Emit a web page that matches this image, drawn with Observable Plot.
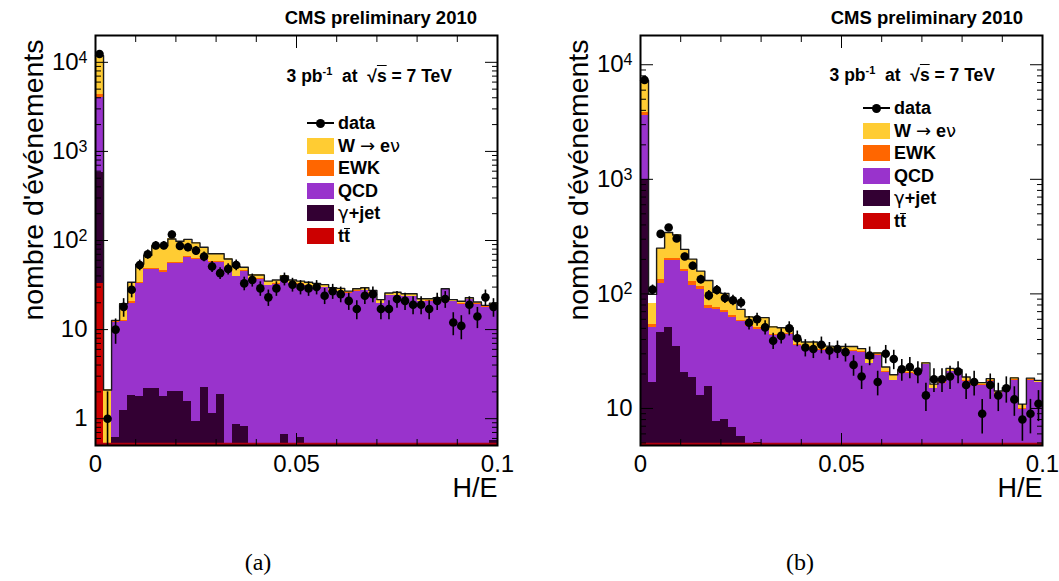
<!DOCTYPE html>
<html>
<head>
<meta charset="utf-8">
<script src="https://cdn.jsdelivr.net/npm/d3@7"></script>
<script src="https://cdn.jsdelivr.net/npm/@observablehq/plot@0.6"></script>
<style>
  body { margin: 0; background: #fff; font-family: "Liberation Sans", Arial, sans-serif; }
  #page { position: relative; width: 1059px; height: 581px; overflow: hidden; background: #fff; }
  .panel { position: absolute; top: 0; width: 530px; height: 520px; }
  .panel svg { position: absolute; left: 0; top: 0; }
  .cms { position: absolute; font-weight: bold; font-size: 18.5px; white-space: nowrap; line-height: 20px; }
  .lumi { position: absolute; font-weight: bold; font-size: 17.5px; white-space: nowrap; line-height: 20px; }
  .lumi sup { font-size: 11px; vertical-align: 7px; }
  .ov { text-decoration: overline; }
  .bar { display: inline-block; border-top: 1.6px solid black; line-height: 14px; }
  .leg-text { position: absolute; font-weight: bold; font-size: 18px; line-height: 20px; white-space: nowrap; }
  .sym { font-weight: normal; font-family: "DejaVu Sans", "Liberation Sans", sans-serif; }
  .leg-box { position: absolute; width: 27px; height: 16px; }
  .caption { position: absolute; top: 549px; font-family: "Liberation Serif", "DejaVu Serif", serif; font-size: 24px; transform: translateX(-50%); }
</style>
</head>
<body>
<div id="page"></div>
<script>
// ---- binning of H/E ----
const nBins = 50;
const xMax = 0.1;
const binWidth = xMax / nBins;

// ---- panel (a): events per bin for each process ----
const ttA = [33, 0, 0, 0, 0, 0, 0, 0, 0, 0, 0, 0, 0, 0, 0, 0, 0, 0, 0, 0, 0, 0, 0, 0, 0,
  0, 0, 0, 0, 0, 0, 0, 0, 0, 0, 0, 0, 0, 0, 0, 0, 0, 0, 0, 0, 0, 0, 0, 0, 0];
const gjetA = [552, 0, 0.62, 1.24, 1.83, 1.78, 2.2, 2.18, 1.78, 2.02, 2.02, 1.56, 0.93, 2.26, 1.14, 1.87, 0, 0.86, 0.82, 0,
  0, 0, 0, 0.67, 0, 0.62, 0, 0, 0, 0, 0, 0, 0, 0, 0, 0, 0, 0, 0, 0, 0, 0, 0, 0, 0, 0, 0, 0, 0, 0.57];
const qcdA = [3465, 0, 11.4, 11.1, 17.7, 30.8, 45.1, 45.1, 42.2, 53.7,
  52.6, 63.4, 59.9, 58.5, 56.2, 55.4, 48, 38.1, 44.2, 36,
  36.5, 31, 32, 36.5, 32.5, 31.5, 31, 29.5, 29.5, 27,
  26.5, 25.5, 27, 27.5, 25.5, 19.5, 24, 24, 23.5, 23.5,
  20.5, 20.8, 21.5, 28, 20.6, 19.2, 21.7, 19.3, 17.8, 18.2];
const ewkA = [250, 0.05, 0.2, 0.3, 1.0, 1.4, 1.8, 1.7, 2.0, 1.5,
  1.6, 1.6, 1.5, 1.4, 1.2, 1.2, 1, 0.8, 0.8, 0.6,
  0.5, 0.5, 0.5, 0.5, 0.5, 0.4, 0.4, 0.4, 0.4, 0.3,
  0.3, 0.3, 0.3, 0.3, 0.3, 0.3, 0.3, 0.3, 0.3, 0.3,
  0.2, 0.2, 0.2, 0.2, 0.2, 0.2, 0.2, 0.2, 0.2, 0.2];
const wenuA = [7600, 2.05, 0.5, 6.9, 13.5, 20, 18.9, 38, 41, 46.8,
  41.8, 36.4, 31.7, 21.8, 12.5, 12.5, 13, 11.2, 4.2, 4.4,
  4, 3.5, 3.5, 2.3, 3, 2.5, 2.6, 3.1, 2.1, 2.2,
  2.2, 1.2, 1.4, 1.7, 1.7, 1.9, 1.4, 2, 1.5, 1.5,
  1.5, 1.2, 1.1, 0.5, 0.9, 1.4, 0.9, 0.9, 0.7, 0.8];
const mcTotalA = [11900, 2.1, 12.7, 19.5, 34, 54, 68, 87, 87, 104,
  98, 103, 94, 84, 71, 71, 62, 51, 50, 41,
  41, 35, 36, 40, 36, 35, 34, 33, 32, 29.5,
  29, 27, 28.7, 29.5, 27.5, 21.7, 25.7, 26.3, 25.3, 25.3,
  22.2, 22.2, 22.8, 28.7, 21.7, 20.8, 22.8, 20.4, 18.7, 19.8];
const dataA = [12400, 1, 10, 18, 28, 53, 70, 88, 88, 117,
  87, 84, 77, 66, 51, 43, 48, 53, 33, 36,
  29, 23, 29, 37, 32, 30, 29, 30, 24, 27,
  25, 21, 17, 24, 25, 17, 17, 22, 21, 19,
  19, 17, 21, 22, 12, 11, 19, 14, 23, 18];

// ---- panel (b) ----
const ttB = [0, 0, 0, 0, 0, 0, 0, 0, 0, 0, 0, 0, 0, 0, 0, 0, 0, 0, 0, 0, 0, 0, 0, 0, 0,
  0, 0, 0, 0, 0, 0, 0, 0, 0, 0, 0, 0, 0, 0, 0, 0, 0, 0, 0, 0, 0, 0, 0, 0, 0];
const gjetB = [1000, 16.8, 46, 51, 35, 20.5, 18.5, 13, 15.5, 7.7, 8, 6.8, 5.7, 0, 5.0, 0, 0, 0, 0, 0,
  0, 0, 0, 0, 0, 0, 0, 0, 0, 0, 0, 0, 0, 0, 0, 0, 0, 0, 0, 0, 0, 0, 0, 0, 0, 0, 0, 0, 0, 0];
const qcdB = [2590, 33.9, 77, 143, 159, 135.5, 100.5, 97, 59.5, 65.3,
  61, 56, 51.8, 52, 44, 50, 43, 43, 44, 35.5,
  34, 34, 32, 32, 32, 32.5, 31.5, 31, 24.5, 29,
  20.8, 17.4, 20.5, 20.3, 19.8, 24, 14.8, 16.5, 21, 20.6,
  17.2, 16, 16, 17.3, 13.3, 14, 17.6, 9.8, 17.6, 16.8];
const ewkB = [240, 3.3, 11, 11, 11, 8, 8, 6, 3.5, 3,
  3, 2, 1.5, 1.5, 1.5, 1.5, 1.2, 1, 1, 0.8,
  0.7, 0.7, 0.7, 0.6, 0.6, 0.5, 0.5, 0.5, 0.4, 0.4,
  0.3, 0.3, 0.3, 0.3, 0.3, 0.2, 0.2, 0.2, 0.2, 0.2,
  0.2, 0.2, 0.2, 0.2, 0.2, 0.2, 0.2, 0.1, 0.2, 0.2];
const wenuB = [3470, 28, 117, 138, 122, 80.5, 74, 42, 52.5, 27.3,
  29, 22.2, 14.3, 9.5, 11.5, 10.5, 7.3, 6.7, 5.7, 3.7,
  3.3, 3.3, 3.3, 2.4, 2.1, 1.7, 2.7, 1.8, 2.5, 1.1,
  1.9, 2.0, 0.9, 1.0, 1.2, 0.8, 1.3, 0.9, 1.2, 1.0,
  1.4, 0.6, 0.6, 0.7, 0.7, 1.0, 0.7, 1.0, 0.6, 0.6];
const mcTotalB = [7300, 99, 251, 343, 327, 244.5, 201, 158, 131, 103.3,
  101, 87, 73.3, 63, 62, 62, 51.5, 50.7, 50.7, 40,
  38, 38, 36, 35, 34.7, 34.7, 34.7, 33.3, 27.4, 30.5,
  23, 19.7, 21.7, 21.6, 21.3, 25, 16.3, 17.6, 22.4, 21.8,
  18.8, 16.8, 16.8, 18.2, 14.2, 15.2, 18.5, 10.9, 18.4, 17.6];
const dataB = [7350, 109, 334, 380, 304, 212, 176, 134, 97, 108,
  92, 88, 84, 56, 60, 51, 39, 43, 50, 41,
  34, 33, 36, 32, 33, 31, 24, 19, 29, 17,
  30, 27, 22, 23, 21, 13, 18, 18, 19, 21,
  16, 17, 9, 16, 13, 15, 12, 8, 9, 11];

// ---- processes, stacked bottom to top ----
const processKeys = ["tt", "gjet", "qcd", "ewk", "wenu"];
const processColors = ["#cc0000", "#330033", "#9933cc", "#ff6600", "#ffcc33"];
const legendKeys = ["wenu", "ewk", "qcd", "gjet", "tt"];
const legendLabels = [
  'W <span class="sym">→</span> e<span class="sym">ν</span>',
  "EWK",
  "QCD",
  '<span class="sym">γ</span>+jet',
  't<span class="bar">t</span>'
];

// ---- axes ----
const xMajorTicks = [0, 0.05, 0.1];
const xTickLabels = ["0", "0.05", "0.1"];
const xMinorTicks = [0.01, 0.02, 0.03, 0.04, 0.06, 0.07, 0.08, 0.09];
const yMajorA = [1, 10, 100, 1000, 10000];
const yLabelsA = ["1", "10", "10^2", "10^3", "10^4"];
const yMinorA = [0.6, 0.7, 0.8, 0.9, 2, 3, 4, 5, 6, 7, 8, 9, 20, 30, 40, 50, 60, 70, 80, 90,
  200, 300, 400, 500, 600, 700, 800, 900, 2000, 3000, 4000, 5000, 6000, 7000, 8000, 9000];
const yMajorB = [10, 100, 1000, 10000];
const yLabelsB = ["10", "10^2", "10^3", "10^4"];
const yMinorB = [5, 6, 7, 8, 9, 20, 30, 40, 50, 60, 70, 80, 90,
  200, 300, 400, 500, 600, 700, 800, 900, 2000, 3000, 4000, 5000, 6000, 7000, 8000, 9000];

const panels = [
  { left: 0, tag: "(a)", captionX: 258, yDomain: [0.5, 20000],
    series: { tt: ttA, gjet: gjetA, qcd: qcdA, ewk: ewkA, wenu: wenuA },
    total: mcTotalA, data: dataA, yMajor: yMajorA, yLabels: yLabelsA, yMinor: yMinorA,
    cmsRight: 53, lumiRight: 78, lumiTop: 61, legLeft: 307, legTop: 123, legStep: 22.5 },
  { left: 545, tag: "(b)", captionX: 800, yDomain: [4.75, 18000],
    series: { tt: ttB, gjet: gjetB, qcd: qcdB, ewk: ewkB, wenu: wenuB },
    total: mcTotalB, data: dataB, yMajor: yMajorB, yLabels: yLabelsB, yMinor: yMinorB,
    cmsRight: 52, lumiRight: 80, lumiTop: 60, legLeft: 318, legTop: 108, legStep: 22.6 }
];

const page = document.getElementById("page");
const blank = () => "";

function drawPanel(p) {
  const yMin = p.yDomain[0];
  const binLow = d3.range(nBins).map(i => i * binWidth);

  // stacked histogram bars, floored at the bottom of the log axis
  const rects = [];
  binLow.forEach((x1, i) => {
    let cum = 0;
    for (const key of processKeys) {
      const v = p.series[key][i];
      if (!(v > 0)) continue;
      const lo = Math.max(cum, yMin);
      cum += v;
      const hi = Math.max(cum, yMin);
      if (hi > lo) rects.push({ x1, x2: x1 + binWidth, y1: lo, y2: hi, key });
    }
  });

  // total MC outline as a step line
  const outline = binLow.map((x, i) => ({ x, y: p.total[i] }));
  outline.push({ x: xMax, y: p.total[nBins - 1] });

  // data with Poisson error bars
  const points = binLow.map((x, i) => {
    const n = p.data[i];
    return { x: x + binWidth / 2, n, lo: Math.max(n - Math.sqrt(n), yMin), hi: n + Math.sqrt(n) };
  });

  const yFmt = d => p.yLabels[p.yMajor.indexOf(d)];
  const xFmt = d => xTickLabels[xMajorTicks.indexOf(d)];

  const chart = Plot.plot({
    width: 530, height: 510,
    marginLeft: 95, marginRight: 33, marginTop: 35, marginBottom: 65,
    x: { domain: [0, xMax], label: null },
    y: { type: "log", domain: p.yDomain, label: null },
    color: { domain: processKeys, range: processColors },
    style: { fontFamily: "Liberation Sans, Arial, sans-serif", fontSize: "24px", color: "black", background: "transparent" },
    marks: [
      Plot.rect(rects, { x1: "x1", x2: "x2", y1: "y1", y2: "y2", fill: "key", shapeRendering: "crispEdges" }),
      Plot.ruleY([yMin], { stroke: "#b00010", strokeWidth: 2.5, dy: -1.5 }),
      Plot.line(outline, { x: "x", y: "y", curve: "step-after", stroke: "#1a1a1a", strokeWidth: 1.4 }),
      Plot.ruleX(points, { x: "x", y1: "lo", y2: "hi", stroke: "black", strokeWidth: 1.6 }),
      Plot.dot(points, { x: "x", y: "n", r: 4.3, fill: "black" }),
      Plot.frame({ stroke: "black", strokeWidth: 2 }),
      // y axis: labels and inward ticks on both sides
      Plot.axisY(p.yMajor, { anchor: "left", tickSize: 0, tickPadding: 8, tickFormat: yFmt }),
      Plot.axisY(p.yMajor, { anchor: "left", tickSize: -13, tickFormat: blank }),
      Plot.axisY(p.yMinor, { anchor: "left", tickSize: -6, tickFormat: blank }),
      Plot.axisY(p.yMajor, { anchor: "right", tickSize: -13, tickFormat: blank }),
      Plot.axisY(p.yMinor, { anchor: "right", tickSize: -6, tickFormat: blank }),
      // x axis: labels and inward ticks top and bottom
      Plot.axisX(xMajorTicks, { anchor: "bottom", tickSize: 0, tickPadding: 9, tickFormat: xFmt }),
      Plot.axisX(xMajorTicks, { anchor: "bottom", tickSize: -12, tickFormat: blank }),
      Plot.axisX(xMinorTicks, { anchor: "bottom", tickSize: -6, tickFormat: blank }),
      Plot.axisX(xMajorTicks, { anchor: "top", tickSize: -12, tickFormat: blank }),
      Plot.axisX(xMinorTicks, { anchor: "top", tickSize: -6, tickFormat: blank }),
      // axis titles
      Plot.text(["nombre d'événements"], { frameAnchor: "top-left", dx: -73, dy: 4, rotate: -90, textAnchor: "end", fontSize: 28.5 }),
      Plot.text(["H/E"], { frameAnchor: "bottom-right", dy: 32, textAnchor: "end", lineAnchor: "top", fontSize: 27 })
    ]
  });

  // exponents in the y tick labels
  chart.querySelectorAll('[aria-label="y-axis tick label"] text').forEach(t => {
    const s = t.textContent;
    if (s.includes("^")) {
      const [base, exp] = s.split("^");
      t.textContent = base;
      const ts = document.createElementNS("http://www.w3.org/2000/svg", "tspan");
      ts.setAttribute("dy", "-0.45em");
      ts.setAttribute("font-size", "16");
      ts.textContent = exp;
      t.appendChild(ts);
    }
  });

  const div = document.createElement("div");
  div.className = "panel";
  div.style.left = p.left + "px";
  div.appendChild(chart);

  const cms = document.createElement("div");
  cms.className = "cms";
  cms.style.right = p.cmsRight + "px";
  cms.style.top = "8px";
  cms.textContent = "CMS preliminary 2010";
  div.appendChild(cms);

  const lumi = document.createElement("div");
  lumi.className = "lumi";
  lumi.style.right = p.lumiRight + "px";
  lumi.style.top = p.lumiTop + "px";
  lumi.innerHTML = '3 pb<sup>-1</sup>&nbsp; at &nbsp;√<span class="ov">s</span> = 7 TeV';
  div.appendChild(lumi);

  // legend: data marker first, then the processes
  const cy0 = p.legTop;
  const line = document.createElement("div");
  Object.assign(line.style, { position: "absolute", left: p.legLeft + "px", top: (cy0 - 0.75) + "px", width: "27px", height: "1.5px", background: "black" });
  div.appendChild(line);
  const dot = document.createElement("div");
  Object.assign(dot.style, { position: "absolute", left: (p.legLeft + 9) + "px", top: (cy0 - 4.5) + "px", width: "9px", height: "9px", borderRadius: "50%", background: "black" });
  div.appendChild(dot);
  const dataText = document.createElement("div");
  dataText.className = "leg-text";
  dataText.style.left = (p.legLeft + 31) + "px";
  dataText.style.top = (cy0 - 10) + "px";
  dataText.textContent = "data";
  div.appendChild(dataText);

  legendKeys.forEach((key, j) => {
    const cy = cy0 + (j + 1) * p.legStep;
    const box = document.createElement("div");
    box.className = "leg-box";
    box.style.left = p.legLeft + "px";
    box.style.top = (cy - 8) + "px";
    box.style.background = processColors[processKeys.indexOf(key)];
    div.appendChild(box);
    const txt = document.createElement("div");
    txt.className = "leg-text";
    txt.style.left = (p.legLeft + 31) + "px";
    txt.style.top = (cy - 10) + "px";
    txt.innerHTML = legendLabels[j];
    div.appendChild(txt);
  });

  page.appendChild(div);

  const cap = document.createElement("div");
  cap.className = "caption";
  cap.style.left = p.captionX + "px";
  cap.textContent = p.tag;
  page.appendChild(cap);
}

panels.forEach(drawPanel);
</script>
</body>
</html>
